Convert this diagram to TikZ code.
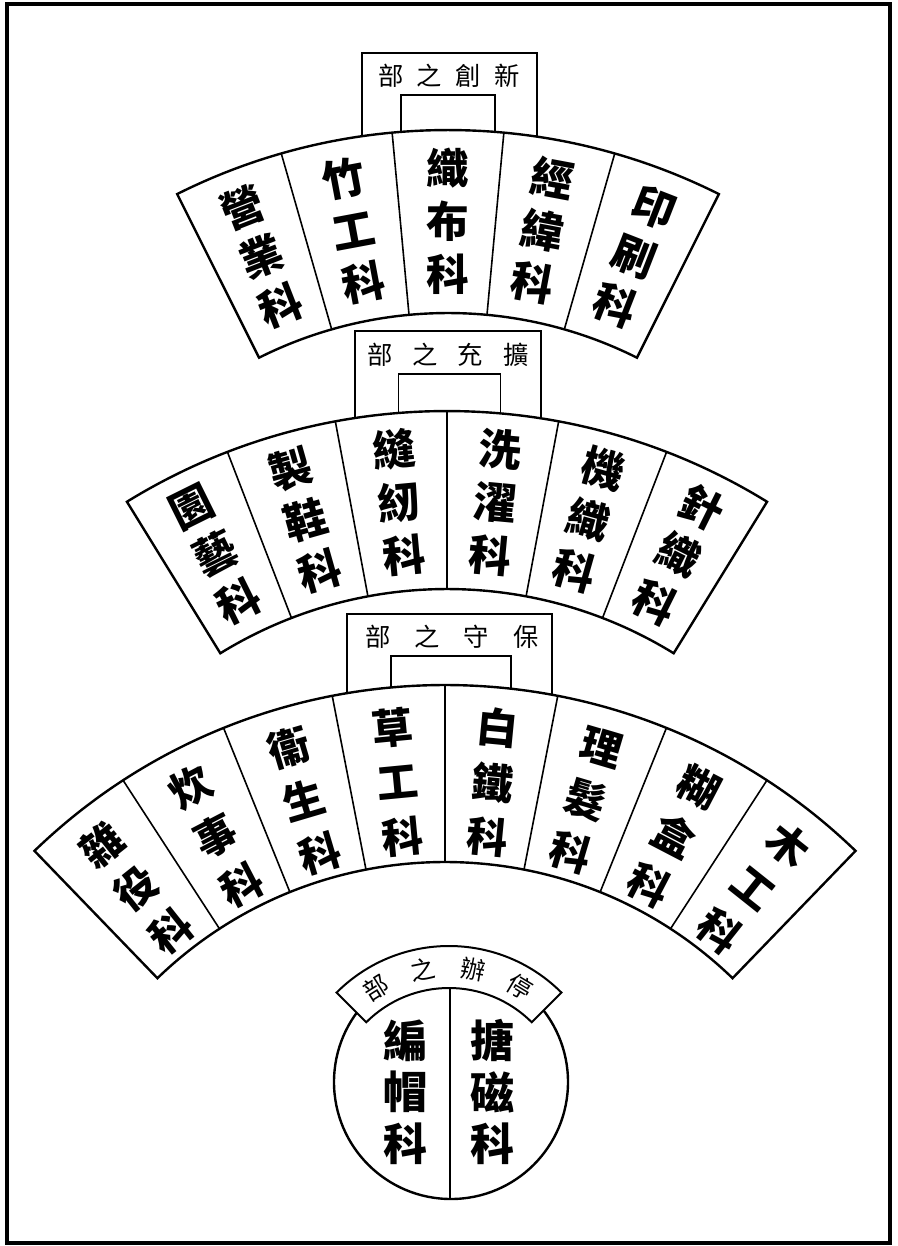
\documentclass[tikz,border=0pt]{standalone}
\usepackage{fontspec}
\newfontfamily\cjk{Noto Sans CJK TC}
\begin{document}
\begin{tikzpicture}[x=0.75pt,y=0.75pt,
  frameline/.style={line width=2.4pt},
  fanline/.style={line width=1.8pt,fill=white,line join=miter},
  divline/.style={line width=1.2pt},
  boxline/.style={line width=1.1pt},
  fanword/.style={font=\cjk\bfseries\fontsize{32pt}{39.75pt}\selectfont,align=center,inner sep=0pt},
  fanwordb/.style={font=\cjk\bfseries\fontsize{31pt}{41.25pt}\selectfont,align=center,inner sep=0pt},
  circword/.style={font=\cjk\bfseries\fontsize{33pt}{38.8pt}\selectfont,align=center,inner sep=0pt},
  boxword/.style={font=\cjk\fontsize{19pt}{22pt}\selectfont,inner sep=0pt},
  bannerword/.style={font=\cjk\fontsize{18.5pt}{22pt}\selectfont,inner sep=0pt}]
\useasboundingbox (0,0) rectangle (897,-1246);
% frame
\draw[frameline] (7,-4) rectangle (890,-1243);

% ---------- boxes ----------
\draw[boxline] (362,-160) -- (362,-53) -- (537,-53) -- (537,-160);
\draw[boxline] (401,-160) -- (401,-95) -- (495,-95) -- (495,-160);
\node[boxword] (b1) at (449,-76) {部\hspace{10pt}之\hspace{10pt}創\hspace{10pt}新};

\draw[boxline] (355,-440) -- (355,-331) -- (541,-331) -- (541,-440);
\draw[boxline] (398.5,-440) -- (398.5,-374) -- (500.5,-374) -- (500.5,-440);
\node[boxword] (b2) at (448,-355) {部\hspace{15pt}之\hspace{15pt}充\hspace{15pt}擴};

\draw[boxline] (347,-720) -- (347,-614) -- (552,-614) -- (552,-720);
\draw[boxline] (391,-720) -- (391,-656) -- (511,-656) -- (511,-720);
\node[boxword] (b3) at (452,-637) {部\hspace{18pt}之\hspace{18pt}守\hspace{18pt}保};

% ---------- fan 1 ----------
\begin{scope}[shift={(448,-735)}]
  \draw[fanline] (63.4:605) arc[start angle=63.4,end angle=116.6,radius=605]
    -- (116.6:422) arc[start angle=116.6,end angle=63.4,radius=422] -- cycle;
  \foreach \a in {106,95.3,84.7,74} \draw[divline] (\a:422) -- (\a:605);
  \foreach \a/\t [count=\i] in {111.3/營\\業\\科, 100.6/竹\\工\\科, 90/織\\布\\科, 79.4/經\\緯\\科, 68.7/印\\刷\\科}
    \node[fanword,rotate=\a-90] (fa\i) at (\a:513.5) {\t};
\end{scope}

% ---------- fan 2 ----------
\begin{scope}[shift={(447,-1021)}]
  \draw[fanline] (58.35:610) arc[start angle=58.35,end angle=121.65,radius=610]
    -- (121.65:432) arc[start angle=121.65,end angle=58.35,radius=432] -- cycle;
  \foreach \a in {111.1,100.55,90,79.45,68.9} \draw[divline] (\a:432) -- (\a:610);
  \foreach \a/\t [count=\i] in {116.4/園\\藝\\科, 105.8/製\\鞋\\科, 95.3/縫\\紉\\科, 84.7/洗\\濯\\科, 74.2/機\\織\\科, 63.6/針\\織\\科}
    \node[fanword,rotate=\a-90] (fb\i) at (\a:521) {\t};
\end{scope}

% ---------- fan 3 ----------
\begin{scope}[shift={(445,-1276)}]
  \draw[fanline] (46:591) arc[start angle=46,end angle=134,radius=591]
    -- (134:414) arc[start angle=134,end angle=46,radius=414] -- cycle;
  \foreach \a in {123,112,101,90,79,68,57} \draw[divline] (\a:414) -- (\a:591);
  \foreach \a/\t [count=\i] in {128.5/雜\\役\\科, 117.5/炊\\事\\科, 106.5/衞\\生\\科, 95.5/草\\工\\科, 84.5/白\\鐵\\科, 73.5/理\\髮\\科, 62.5/糊\\盒\\科, 51.5/木\\工\\科}
    \node[fanwordb,rotate=\a-90] (fc\i) at (\a:496) {\t};
\end{scope}

% ---------- circle ----------
\draw[fanline] (451,-1082) circle[radius=117];
\draw[divline] (450,-1199) -- (450,-980);
\begin{scope}[shift={(449,-1105)}]
  \draw[fanline,line width=1.5pt] (45:159) arc[start angle=45,end angle=135,radius=159]
    -- (135:117) arc[start angle=135,end angle=45,radius=117] -- cycle;
  \foreach \a/\t [count=\i] in {122/部, 101/之, 80/辦, 59/停}
    \node[bannerword,rotate=\a-90] (bn\i) at (\a:138) {\t};
\end{scope}
\node[circword] (c1) at (405,-1092) {編\\帽\\科};
\node[circword] (c2) at (492,-1092) {搪\\磁\\科};
\end{tikzpicture}
\end{document}
